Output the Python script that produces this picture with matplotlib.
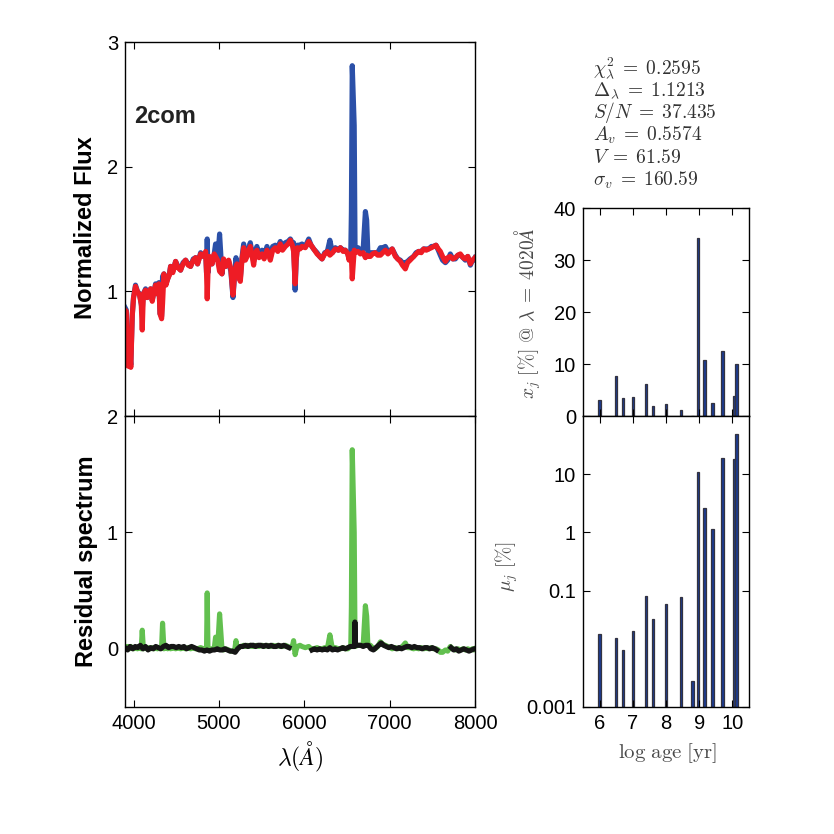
"""
Spectral fit panel: observed vs model spectrum, residuals and SSP population vectors.
"""

import numpy as np
import matplotlib
matplotlib.use('Agg')
import matplotlib.pyplot as plt
from matplotlib.ticker import FixedLocator, NullLocator

plt.rcParams['font.family'] = ['Liberation Sans', 'DejaVu Sans']
plt.rcParams['mathtext.fontset'] = 'cm'

# spectrum grid (Angstrom), model flux and observed-minus-model residual
wave = [3900, 3915, 3925, 3935, 3950, 3968, 3985, 4000, 4023, 4045,
        4070, 4090, 4102, 4115, 4141, 4160, 4180, 4200, 4219, 4240,
        4258, 4280, 4297, 4310, 4329, 4340, 4356, 4380, 4400, 4420,
        4434, 4460, 4493, 4520, 4551, 4580, 4610, 4640, 4668, 4700,
        4727, 4750, 4786, 4820, 4845, 4855, 4863, 4872, 4890, 4920,
        4945, 4961, 4985, 5008, 5036, 5055, 5080, 5114, 5140, 5165,
        5185, 5200, 5212, 5230, 5251, 5270, 5290, 5310, 5330, 5350,
        5368, 5390, 5407, 5425, 5445, 5470, 5505, 5530, 5563, 5585,
        5602, 5630, 5661, 5690, 5719, 5745, 5778, 5810, 5837, 5860,
        5875, 5893, 5905, 5920, 5950, 5973, 6012, 6052, 6080, 6110,
        6150, 6180, 6208, 6240, 6270, 6300, 6330, 6364, 6400, 6423,
        6455, 6481, 6510, 6525, 6545, 6552, 6562, 6585, 6595, 6630,
        6657, 6690, 6716, 6731, 6745, 6774, 6800, 6830, 6860, 6892,
        6920, 6950, 6980, 7008, 7030, 7067, 7095, 7125, 7150, 7184,
        7210, 7240, 7281, 7310, 7340, 7370, 7399, 7430, 7457, 7490,
        7516, 7543, 7570, 7594, 7620, 7653, 7680, 7711, 7740, 7770,
        7800, 7828, 7860, 7887, 7915, 7946, 7970, 7985, 8000]

flux_model = [0.85, 0.84, 0.60, 0.40, 0.55, 0.39, 0.80, 0.95, 1.04, 1.00,
              0.97, 0.90, 0.69, 0.98, 1.01, 0.95, 0.97, 1.02, 0.92, 1.00,
              1.05, 0.98, 1.06, 0.82, 0.78, 0.90, 1.14, 1.05, 1.10, 1.13,
              1.20, 1.15, 1.24, 1.19, 1.17, 1.22, 1.25, 1.21, 1.20, 1.25,
              1.27, 1.22, 1.30, 1.28, 1.32, 1.15, 0.94, 1.15, 1.28, 1.22,
              1.30, 1.28, 1.25, 1.16, 1.14, 1.26, 1.20, 1.25, 1.18, 0.97,
              1.15, 1.20, 1.22, 1.12, 1.08, 1.25, 1.35, 1.25, 1.28, 1.33,
              1.36, 1.28, 1.21, 1.30, 1.33, 1.27, 1.30, 1.26, 1.33, 1.29,
              1.25, 1.33, 1.35, 1.32, 1.38, 1.33, 1.36, 1.38, 1.41, 1.37,
              1.32, 1.06, 1.25, 1.35, 1.34, 1.36, 1.35, 1.40, 1.37, 1.34,
              1.30, 1.28, 1.26, 1.30, 1.32, 1.29, 1.31, 1.34, 1.33, 1.35,
              1.32, 1.33, 1.30, 1.25, 1.30, 1.28, 1.10, 1.33, 1.31, 1.32,
              1.30, 1.31, 1.27, 1.29, 1.28, 1.28, 1.30, 1.31, 1.29, 1.29,
              1.31, 1.33, 1.30, 1.32, 1.34, 1.28, 1.26, 1.24, 1.21, 1.18,
              1.23, 1.25, 1.28, 1.30, 1.32, 1.31, 1.34, 1.33, 1.34, 1.35,
              1.36, 1.37, 1.34, 1.32, 1.28, 1.24, 1.27, 1.28, 1.26, 1.27,
              1.29, 1.30, 1.27, 1.26, 1.28, 1.22, 1.25, 1.26, 1.27]

residual = [0.02, 0.01, 0.00, 0.02, 0.00, 0.02, 0.01, 0.00, 0.01, 0.00,
            0.01, 0.00, 0.16, 0.00, 0.01, 0.00, 0.01, 0.00, 0.01, 0.00,
            0.01, 0.00, 0.01, 0.00, 0.02, 0.22, 0.00, 0.01, 0.00, 0.01,
            0.00, 0.01, 0.00, 0.01, 0.00, 0.01, 0.00, 0.01, 0.00, 0.01,
            0.00, 0.00, 0.01, 0.00, -0.01, 0.00, 0.48, 0.00, -0.01, 0.00,
            0.00, 0.10, 0.00, 0.30, 0.00, -0.01, 0.00, -0.01, -0.02, -0.02,
            -0.01, 0.07, 0.00, 0.01, 0.02, 0.02, 0.03, 0.02, 0.03, 0.02,
            0.03, 0.02, 0.03, 0.02, 0.03, 0.02, 0.03, 0.02, 0.03, 0.02,
            0.02, 0.03, 0.02, 0.03, 0.02, 0.02, 0.03, 0.02, 0.01, 0.02,
            0.07, -0.05, -0.01, 0.02, 0.03, 0.02, 0.01, 0.02, 0.00, 0.00,
            0.01, 0.00, 0.00, 0.01, 0.00, 0.12, 0.00, 0.01, 0.00, 0.00,
            0.01, 0.00, 0.00, 0.01, 0.02, 0.36, 1.71, 1.00, 0.02, 0.03,
            0.03, 0.03, 0.37, 0.28, 0.03, 0.03, 0.01, 0.00, 0.02, 0.06,
            0.04, 0.03, 0.02, 0.01, 0.00, 0.01, 0.00, 0.01, 0.02, 0.05,
            0.01, 0.01, 0.00, 0.01, 0.00, 0.01, 0.00, 0.01, 0.00, 0.01,
            0.00, 0.00, -0.01, -0.03, -0.03, -0.01, -0.02, 0.02, 0.00, -0.01,
            0.00, -0.01, 0.00, -0.01, 0.00, -0.01, 0.00, -0.01, 0.00]

# residual of the fitted (unmasked) pixels, gaps = masked windows
wave_fit = [3900, 3930, 3960, 3990, 4020, 4050, 4080, 4110, 4140, 4170,
            4200, 4230, 4260, 4290, 4320, 4350, 4380, 4410, 4440, 4470,
            4500, 4530, 4560, 4590, 4620, 4650, 4680, 4710, 4740, 4770,
            4800, 4830, 4860, 4890, 4920, 4950, 4980, 5010, 5040, 5070,
            5100, 5130, 5160, 5190, 5220, 5250, 5280, 5310, 5340, 5370,
            5400, 5430, 5460, 5490, 5520, 5550, 5580, 5610, 5640, 5670,
            5700, 5730, 5760, 5790, 5820, 5830,
            6090, 6120, 6150, 6180, 6210, 6240, 6270, 6300, 6330, 6360,
            6390, 6420, 6450, 6480, 6510, 6540, 6570, 6590, 6593, 6598,
            6630, 6660, 6690, 6720, 6750, 6780, 6810, 6840, 6870, 6900,
            6930, 6960, 6990, 7020, 7050, 7080, 7110, 7140, 7170, 7200,
            7230, 7260, 7290, 7320, 7350, 7380, 7410, 7440, 7470, 7500,
            7530, 7550, 7560,
            7720, 7750, 7780, 7810, 7840, 7870, 7900, 7930, 7960, 7990, 8000]

resid_fit = [0.01, -0.01, 0.02, 0.00, 0.02, 0.01, 0.03, 0.00, 0.02, -0.01,
             0.01, 0.00, 0.02, 0.01, 0.00, 0.02, 0.03, 0.01, 0.02, 0.02,
             0.01, 0.02, 0.01, 0.02, 0.00, 0.01, 0.02, 0.01, 0.00, -0.01,
             -0.01, -0.02, -0.01, -0.02, -0.01, -0.01, 0.00, -0.01, -0.01, 0.00,
             -0.01, -0.02, -0.02, -0.03, 0.00, 0.02, 0.02, 0.03, 0.02, 0.03,
             0.03, 0.02, 0.03, 0.03, 0.02, 0.03, 0.02, 0.03, 0.02, 0.02,
             0.03, 0.02, 0.03, 0.02, 0.01, np.nan,
             -0.01, 0.00, -0.01, 0.00, -0.01, 0.00, -0.01, 0.01, -0.01, 0.00,
             -0.01, 0.00, 0.01, 0.00, 0.01, 0.02, 0.02, 0.02, 0.23, 0.03,
             0.03, 0.03, 0.02, 0.03, 0.03, 0.00, -0.01, 0.01, 0.03, 0.05,
             0.03, 0.02, 0.01, 0.02, 0.01, 0.00, 0.01, 0.00, 0.01, 0.02,
             0.02, 0.01, 0.02, 0.01, 0.01, 0.00, 0.01, 0.01, 0.00, 0.01,
             0.00, -0.01, np.nan,
             0.01, -0.01, 0.00, -0.02, -0.01, 0.00, -0.01, -0.02, -0.01, 0.00, 0.00]

# population vectors vs log age
log_age = [6.0, 6.5, 6.7, 7.0, 7.4, 7.6, 8.0, 8.46, 8.8, 8.96, 9.16, 9.4, 9.7, 10.04, 10.12]
x_j = [3.1, 7.7, 3.4, 3.7, 6.2, 1.9, 2.3, 1.2, 0.0, 34.2, 10.7, 2.5, 12.5, 3.9, 10.0]
mu_j = [0.0182, 0.0155, 0.0095, 0.0205, 0.0805, 0.0329, 0.0594, 0.0775,
        0.0028, 11.0, 2.58, 1.15, 19.1, 18.4, 48.8]

fit_info = [r'$\chi^2_\lambda\;=\;0.2595$', r'$\Delta_\lambda\;=\;1.1213$',
            r'$S/N\;=\;37.435$', r'$A_v\;=\;0.5574$', r'$V\;=\;61.59$',
            r'$\sigma_v\;=\;160.59$']

BLUE = '#2b50a8'
RED = '#ee1c25'
GREEN = '#62c04f'
BAR_FACE = '#1c3a90'
BAR_EDGE = '#333340'
GREY = '#4a4a4a'


def style_axes(ax):
    ax.tick_params(direction='in', length=5, width=0.8, top=True, right=True,
                   labelsize=14.5, pad=5)
    for s in ax.spines.values():
        s.set_linewidth(1.0)


fig = plt.figure(figsize=(8.34, 8.34), dpi=100)
W, H = 834.0, 834.0


def axes_px(x0, y0, x1, y1):
    return fig.add_axes([x0 / W, 1 - y1 / H, (x1 - x0) / W, (y1 - y0) / H])


ax_spec = axes_px(125, 42, 475, 416)
ax_res = axes_px(125, 416, 475, 707)
ax_x = axes_px(583, 208, 749, 416)
ax_mu = axes_px(583, 416, 749, 707)

wave_a = np.array(wave)
model_a = np.array(flux_model)
resid_a = np.array(residual)
obs_a = model_a + resid_a

# top: observed (blue) and model (red)
ax_spec.plot(wave_a, obs_a, color=BLUE, lw=3.7, solid_joinstyle='round')
ax_spec.plot(wave_a, model_a, color=RED, lw=3.7, solid_joinstyle='round')
ax_spec.set_xlim(3900, 8000)
ax_spec.set_ylim(0, 3)
ax_spec.set_yticks([1, 2, 3])
ax_spec.set_xticks([4000, 5000, 6000, 7000, 8000])
ax_spec.set_xticklabels([])
ax_spec.text(0.026, 0.80, '2com', transform=ax_spec.transAxes, fontsize=17,
             fontweight='bold', va='center', ha='left', color='#222222')
style_axes(ax_spec)

# bottom: residuals
ax_res.plot(wave_a, resid_a, color=GREEN, lw=3.7)
ax_res.plot(wave_fit, resid_fit, color='#151515', lw=3.7)
ax_res.set_xlim(3900, 8000)
ax_res.set_ylim(-0.5, 2)
ax_res.set_yticks([0, 1, 2])
ax_res.set_xticks([4000, 5000, 6000, 7000, 8000])
style_axes(ax_res)

fig.text(86 / W, 1 - 228 / H, 'Normalized Flux', rotation=90, fontsize=17,
         fontweight='bold', ha='center', va='center')
fig.text(86 / W, 1 - 561 / H, 'Residual spectrum', rotation=90, fontsize=17,
         fontweight='bold', ha='center', va='center')
fig.text(300 / W, 1 - 757 / H, r'$\lambda(\AA)$', fontsize=17,
         ha='center', va='center')

# population vectors
ax_x.bar(log_age, x_j, width=0.07, color=BAR_FACE, edgecolor=BAR_EDGE, linewidth=0.9)
ax_x.set_xlim(5.5, 10.5)
ax_x.set_ylim(0, 40)
ax_x.set_yticks([0, 10, 20, 30, 40])
ax_x.set_xticks([6, 7, 8, 9, 10])
ax_x.set_xticklabels([])
style_axes(ax_x)

ax_mu.bar(log_age, np.array(mu_j) - 1e-3, bottom=1e-3, width=0.07,
          color=BAR_FACE, edgecolor=BAR_EDGE, linewidth=0.9)
ax_mu.set_yscale('log')
ax_mu.set_xlim(5.5, 10.5)
ax_mu.set_ylim(1e-3, 100)
ax_mu.yaxis.set_major_locator(FixedLocator([0.001, 0.1, 1, 10]))
ax_mu.yaxis.set_minor_locator(NullLocator())
ax_mu.set_yticklabels(['0.001', '0.1', '1', '10'])
ax_mu.set_xticks([6, 7, 8, 9, 10])
style_axes(ax_mu)

fig.text(528 / W, 1 - 313 / H, r'$x_j\ [\%]\ @\ \lambda\;=\;4020\AA$', rotation=90,
         fontsize=14, ha='center', va='center', color=GREY)
fig.text(507 / W, 1 - 567 / H, r'$\mu_j\ [\%]$', rotation=90,
         fontsize=14, ha='center', va='center', color=GREY)
fig.text(668 / W, 1 - 753 / H, r'$\mathrm{log\ age\ [yr]}$', fontsize=15,
         ha='center', va='center', color=GREY)

for i, line in enumerate(fit_info):
    fig.text(593 / W, 1 - (68 + 22.4 * i) / H, line, fontsize=14,
             ha='left', va='center', color='#333333')

fig.savefig('out.png', dpi=100)
